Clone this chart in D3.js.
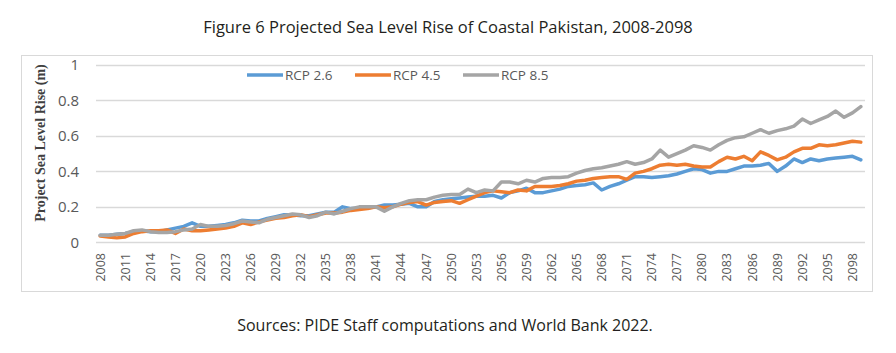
<!DOCTYPE html>
<html>
<head>
<meta charset="utf-8">
<script src="https://cdn.jsdelivr.net/npm/d3@7"></script>
<style>
  body { margin: 0; background: #fff; }
  svg { display: block; }
  .tick line { stroke: none; }
</style>
</head>
<body>
<svg id="chart" width="896" height="353"></svg>
<script>
// years 2008..2099, one value per year
const years = d3.range(2008, 2100);

const rcp26 = [0.04, 0.04, 0.045, 0.05, 0.06, 0.065, 0.06, 0.06, 0.07, 0.08,
  0.09, 0.11, 0.09, 0.09, 0.095, 0.10, 0.11, 0.125, 0.12, 0.12,
  0.135, 0.145, 0.155, 0.155, 0.15, 0.15, 0.16, 0.17, 0.17, 0.2,
  0.19, 0.19, 0.195, 0.2, 0.21, 0.21, 0.215, 0.22, 0.2, 0.2,
  0.23, 0.24, 0.245, 0.25, 0.255, 0.26, 0.26, 0.265, 0.25, 0.28,
  0.29, 0.305, 0.28, 0.28, 0.29, 0.3, 0.315, 0.32, 0.325, 0.335,
  0.295, 0.315, 0.33, 0.35, 0.37, 0.37, 0.365, 0.37, 0.375, 0.385,
  0.4, 0.415, 0.41, 0.39, 0.4, 0.4, 0.415, 0.43, 0.43, 0.435,
  0.445, 0.4, 0.43, 0.47, 0.45, 0.47, 0.46, 0.47, 0.475, 0.48,
  0.485, 0.465];

const rcp45 = [0.035, 0.03, 0.025, 0.03, 0.05, 0.06, 0.065, 0.065, 0.07, 0.05,
  0.075, 0.065, 0.065, 0.07, 0.075, 0.08, 0.09, 0.11, 0.10, 0.115,
  0.125, 0.135, 0.14, 0.15, 0.155, 0.145, 0.155, 0.165, 0.165, 0.17,
  0.18, 0.185, 0.19, 0.2, 0.195, 0.2, 0.215, 0.225, 0.23, 0.21,
  0.225, 0.23, 0.235, 0.22, 0.24, 0.26, 0.28, 0.29, 0.285, 0.28,
  0.295, 0.29, 0.315, 0.315, 0.315, 0.32, 0.33, 0.345, 0.35, 0.36,
  0.365, 0.37, 0.37, 0.355, 0.39, 0.4, 0.415, 0.435, 0.44, 0.435,
  0.44, 0.43, 0.425, 0.425, 0.455, 0.48, 0.47, 0.485, 0.46, 0.51,
  0.49, 0.465, 0.48, 0.51, 0.53, 0.53, 0.55, 0.545, 0.55, 0.56,
  0.57, 0.565];

const rcp85 = [0.04, 0.04, 0.045, 0.05, 0.065, 0.07, 0.06, 0.055, 0.055, 0.06,
  0.07, 0.075, 0.1, 0.09, 0.09, 0.095, 0.105, 0.12, 0.115, 0.11,
  0.13, 0.14, 0.15, 0.16, 0.155, 0.14, 0.15, 0.17, 0.16, 0.175,
  0.19, 0.2, 0.2, 0.2, 0.175, 0.2, 0.22, 0.235, 0.24, 0.24,
  0.255, 0.265, 0.27, 0.27, 0.3, 0.28, 0.295, 0.29, 0.34, 0.34,
  0.33, 0.35, 0.34, 0.36, 0.365, 0.365, 0.37, 0.39, 0.405, 0.415,
  0.42, 0.43, 0.44, 0.455, 0.44, 0.45, 0.47, 0.52, 0.48, 0.5,
  0.52, 0.545, 0.535, 0.52, 0.55, 0.575, 0.59, 0.595, 0.615, 0.635,
  0.615, 0.63, 0.64, 0.655, 0.695, 0.67, 0.69, 0.71, 0.74, 0.705,
  0.73, 0.765];

const seriesNames = ["RCP 2.6", "RCP 4.5", "RCP 8.5"];
const seriesColors = ["#5b9bd5", "#ed7d31", "#a5a5a5"];
const yTicks = [0, 0.2, 0.4, 0.6, 0.8, 1];
const xLabelYears = years.filter(y => (y - 2008) % 3 === 0);

const series = [rcp26, rcp45, rcp85].map((vals, i) => ({
  name: seriesNames[i],
  color: seriesColors[i],
  values: vals.map((v, j) => ({ year: years[j], value: v }))
}));

const svg = d3.select("#chart");
const textColor = "#595959";
const sansFont = "'Open Sans', 'Noto Sans', sans-serif";

// title + source
svg.append("text")
  .attr("x", 448).attr("y", 33)
  .attr("text-anchor", "middle")
  .style("font-family", sansFont)
  .style("font-size", "16.5px")
  .style("fill", "#231f20")
  .text("Figure 6 Projected Sea Level Rise of Coastal Pakistan, 2008-2098");

svg.append("text")
  .attr("x", 445).attr("y", 331)
  .attr("text-anchor", "middle")
  .style("font-family", sansFont)
  .style("font-size", "16px")
  .style("fill", "#231f20")
  .text("Sources: PIDE Staff computations and World Bank 2022.");

// chart frame
svg.append("rect")
  .attr("x", 21.5).attr("y", 55.5)
  .attr("width", 851).attr("height", 236)
  .attr("fill", "none")
  .attr("stroke", "#d9d9d9");

const x = d3.scaleBand().domain(years).range([96, 865]).padding(0);
const xc = yr => x(yr) + x.bandwidth() / 2;
const y = d3.scaleLinear().domain([0, 1]).range([242.3, 65]);

// gridlines
svg.append("g")
  .selectAll("line")
  .data(yTicks)
  .join("line")
  .attr("x1", 96).attr("x2", 865)
  .attr("y1", d => Math.round(y(d)) + 0.5)
  .attr("y2", d => Math.round(y(d)) + 0.5)
  .attr("stroke", "#d9d9d9")
  .attr("stroke-width", 1.3);

// y axis labels
const yAxis = svg.append("g")
  .attr("transform", "translate(96,0)")
  .call(d3.axisLeft(y).tickValues(yTicks).tickSize(0).tickPadding(17)
    .tickFormat(d => d === 0 ? "0" : d === 1 ? "1" : d3.format(".1f")(d)));
yAxis.select(".domain").remove();
yAxis.selectAll("text")
  .style("font-family", sansFont)
  .style("font-size", "15px")
  .style("fill", textColor);

// x axis labels
const xAxis = svg.append("g")
  .attr("transform", "translate(0,242)")
  .call(d3.axisBottom(x).tickValues(xLabelYears).tickSize(0));
xAxis.select(".domain").remove();
xAxis.selectAll("text")
  .attr("transform", "rotate(-90)")
  .attr("text-anchor", "end")
  .attr("x", -11)
  .attr("y", 0)
  .attr("dy", "0.35em")
  .style("font-family", sansFont)
  .style("font-size", "12.5px")
  .style("fill", textColor);

// y axis title
svg.append("text")
  .attr("transform", "translate(45,143) rotate(-90)")
  .attr("text-anchor", "middle")
  .style("font-family", "'Liberation Serif', 'DejaVu Serif', serif")
  .style("font-size", "14px")
  .style("font-weight", "bold")
  .style("fill", "#404040")
  .text("Project Sea Level Rise (m)");

// lines
const line = d3.line()
  .x(d => xc(d.year))
  .y(d => y(d.value));

svg.append("g")
  .selectAll("path")
  .data(series)
  .join("path")
  .attr("d", d => line(d.values))
  .attr("fill", "none")
  .attr("stroke", d => d.color)
  .attr("stroke-width", 3.5)
  .attr("stroke-linejoin", "round")
  .attr("stroke-linecap", "round");

// legend
const legendX = [247, 355, 463];
const legend = svg.append("g")
  .selectAll("g")
  .data(series)
  .join("g")
  .attr("transform", (d, i) => `translate(${legendX[i]},75)`);

legend.append("line")
  .attr("x1", 0).attr("x2", 36)
  .attr("stroke", d => d.color)
  .attr("stroke-width", 3.5);

legend.append("text")
  .attr("x", 38).attr("y", 0)
  .attr("dy", "0.35em")
  .style("font-family", sansFont)
  .style("font-size", "13.5px")
  .style("fill", textColor)
  .text(d => d.name);
</script>
</body>
</html>
